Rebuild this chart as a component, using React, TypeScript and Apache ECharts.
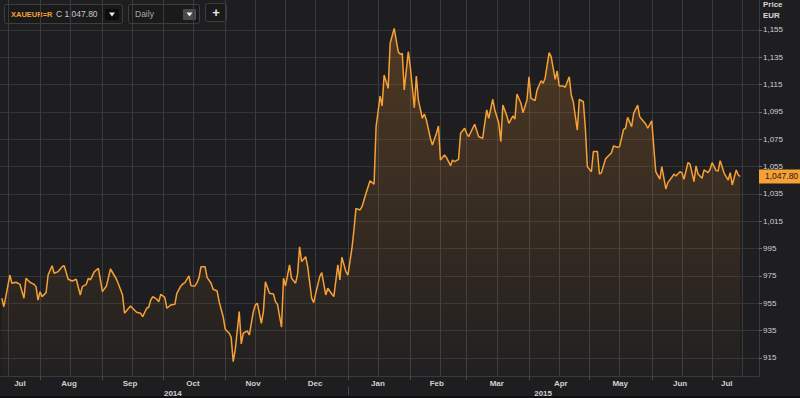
import React, { useEffect, useRef } from "react";
import * as echarts from "echarts";

// x values: days since 2014-07-01
const dayOffsets = [
  12, 13, 14, 16, 17, 19, 20, 21, 23, 24, 26, 28, 29, 30, 31, 32, 34, 35, 37, 38,
  40, 42, 43, 45, 47, 49, 51, 52, 54, 55, 56, 58, 60, 62, 64, 66, 69, 70, 72, 73,
  75, 76, 77, 79, 81, 82, 84, 85, 86, 87, 89, 90, 91, 93, 94, 96, 98, 99, 101, 102,
  103, 105, 106, 108, 109, 110, 111, 113, 114, 116, 117, 119, 120, 122, 123, 125, 126, 127, 128, 130,
  131, 132, 134, 135, 137, 138, 139, 141, 142, 143, 145, 147, 148, 149, 151, 152, 153, 155, 156, 158,
  159, 160, 161, 163, 164, 166, 167, 168, 170, 171, 173, 174, 176, 177, 179, 180, 181, 183, 184, 186,
  187, 188, 190, 191, 193, 195, 197, 198, 200, 201, 202, 204, 205, 207, 209, 210, 211, 212, 214, 215,
  217, 218, 219, 221, 222, 223, 225, 226, 228, 229, 230, 232, 233, 235, 236, 237, 239, 240, 242, 243,
  244, 246, 247, 249, 251, 252, 253, 254, 256, 257, 259, 260, 261, 263, 264, 266, 267, 268, 270, 271,
  273, 274, 275, 277, 278, 280, 281, 282, 284, 285, 287, 288, 289, 291, 292, 294, 295, 296, 298, 299,
  301, 302, 303, 305, 306, 308, 309, 310, 312, 313, 315, 316, 318, 319, 321, 322, 323, 325, 326, 328,
  329, 330, 332, 333, 335, 336, 337, 339, 340, 342, 343, 345, 346, 347, 349, 350, 351, 353, 354, 356,
  357, 358, 360, 361, 363, 364, 365, 367, 368, 369, 371, 373, 374, 375, 377, 378, 379,
];

const prices = [
  958.7, 952.5, 959.9, 975.7, 969.7, 970.4, 969.7, 968.9, 958.7, 973.3, 970.4, 968.9, 967.2, 957.4, 963.5, 959.9, 962.8, 975.7, 982.5, 977.0,
  978.2, 981.8, 982.5, 972.6, 971.3, 972.6, 961.1, 967.2, 968.9, 973.3, 972.1, 978.2, 980.6, 963.5, 967.7, 980.1, 972.6, 968.9, 961.1, 947.7,
  951.4, 953.0, 951.4, 948.4, 947.7, 945.2, 951.4, 952.1, 957.4, 959.9, 958.0, 956.2, 961.6, 959.4, 951.4, 953.8, 954.3, 962.3, 967.7, 969.2,
  970.1, 975.0, 967.9, 967.7, 970.1, 973.8, 981.8, 981.8, 974.0, 969.7, 965.3, 964.0, 956.2, 945.2, 936.2, 933.1, 930.1, 912.3, 920.9, 948.9,
  925.3, 933.1, 934.8, 931.8, 948.9, 953.8, 955.0, 940.4, 948.9, 970.8, 962.3, 961.8, 956.2, 954.3, 937.5, 973.3, 967.7, 983.1, 973.3, 969.7,
  976.5, 996.4, 985.5, 989.1, 981.8, 958.7, 955.5, 962.3, 974.5, 977.4, 961.1, 966.0, 961.8, 959.9, 983.1, 972.1, 988.7, 978.2, 975.7, 995.3,
  1008.7, 1024.5, 1023.3, 1025.7, 1035.5, 1044.7, 1042.1, 1084.2, 1106.7, 1099.4, 1122.1, 1112.3, 1145.3, 1156.2, 1139.1, 1137.2, 1137.9, 1111.1, 1139.1, 1128.1,
  1098.1, 1121.3, 1103.8, 1090.4, 1093.5, 1089.2, 1075.8, 1070.9, 1079.4, 1084.8, 1059.9, 1063.5, 1061.6, 1055.7, 1059.9, 1058.6, 1060.4, 1079.4, 1083.1, 1079.4,
  1076.9, 1083.1, 1086.0, 1076.9, 1075.8, 1086.7, 1096.5, 1090.4, 1104.3, 1096.5, 1086.7, 1073.3, 1100.1, 1092.1, 1086.7, 1092.1, 1089.7, 1108.2, 1101.4, 1094.5,
  1103.8, 1120.8, 1105.0, 1103.3, 1111.1, 1117.9, 1116.0, 1119.7, 1138.4, 1135.5, 1118.9, 1125.0, 1114.0, 1114.0, 1113.1, 1120.8, 1107.4, 1102.5, 1081.8, 1104.3,
  1102.5, 1083.1, 1055.0, 1051.3, 1066.0, 1066.0, 1049.6, 1050.6, 1060.6, 1062.3, 1065.2, 1070.1, 1069.2, 1069.6, 1082.3, 1083.1, 1091.1, 1084.2, 1094.0, 1100.1,
  1091.6, 1089.7, 1086.2, 1083.1, 1088.6, 1069.6, 1051.3, 1045.8, 1055.0, 1038.7, 1043.3, 1047.2, 1049.6, 1048.2, 1051.3, 1050.6, 1045.8, 1057.9, 1057.0, 1044.0,
  1055.5, 1049.6, 1046.5, 1052.6, 1050.6, 1053.1, 1057.9, 1052.1, 1051.8, 1059.4, 1050.1, 1045.2, 1050.6, 1041.6, 1052.6, 1048.9, 1047.8,
];

const monthStartDays = [31, 62, 92, 123, 153, 184, 215, 243, 274, 304, 335, 365];
const gridDays = [15, 31, 46, 62, 77, 92, 107, 123, 138, 153, 168, 184, 199, 215, 230, 243, 258, 274, 289, 304, 319, 335, 350, 365, 380];
const monthLabelDays = [21, 45.4, 75.7, 107, 136.9, 167.7, 198.9, 228.2, 258, 289.8, 319.3, 349.1, 372.3];
const monthNames = ["Jul", "Aug", "Sep", "Oct", "Nov", "Dec", "Jan", "Feb", "Mar", "Apr", "May", "Jun", "Jul"];
const yearLabelDays = [97, 281];
const yearNames = ["2014", "2015"];
const yearSplitDays = [184];
const priceTicks = [915, 935, 955, 975, 995, 1015, 1035, 1055, 1075, 1095, 1115, 1135, 1155];
const lastPrice = 1047.8;
const ric = "XAUEUR=R";
const interval = "Daily";
const unitLabels = ["Price", "EUR"];

const X_MIN = 11.1;
const X_MAX = 388.3;
const Y_MIN = 901.8;
const Y_MAX = 1176.95;

const ORANGE = "#f7a035";
const FONT = "'Liberation Sans', Arial, sans-serif";
const GRID_COLOR = "#343436";
const VGRID_COLOR = "#3b3b3d";

const nearest = (arr: number[], v: number) => {
  let best = 0;
  for (let i = 1; i < arr.length; i++) if (Math.abs(arr[i] - v) < Math.abs(arr[best] - v)) best = i;
  return best;
};

const fmtPrice = (v: number, digits = 0) =>
  v.toLocaleString("en-US", { minimumFractionDigits: digits, maximumFractionDigits: digits });

export default function App() {
  const ref = useRef<HTMLDivElement>(null);

  useEffect(() => {
    if (!ref.current) return;
    const chart = echarts.init(ref.current, null, { renderer: "svg" });

    const triangle = (cx: number, cy: number, fill: string) => ({
      type: "polygon",
      shape: { points: [[cx - 3, cy - 2], [cx + 3, cy - 2], [cx, cy + 2]] },
      style: { fill },
    });

    chart.setOption({
      animation: false,
      backgroundColor: "#1e1e20",
      textStyle: { fontFamily: FONT },
      grid: { left: 0, right: 41, top: 0, bottom: 22, containLabel: false, outerBoundsMode: "none" },
      xAxis: [
        {
          type: "value",
          min: X_MIN,
          max: X_MAX,
          position: "bottom",
          axisLine: { show: true, lineStyle: { color: "#3a3a3c", width: 1 } },
          axisTick: { show: true, length: 4, customValues: monthStartDays, lineStyle: { color: "#4a4a4c" } },
          axisLabel: {
            customValues: monthLabelDays,
            formatter: (v: number) => monthNames[nearest(monthLabelDays, v)],
            color: "#d0d0d0",
            fontSize: 8,
            fontWeight: "bold",
            fontFamily: FONT,
            margin: 3,
          },
          splitLine: { show: false },
        },
        {
          type: "value",
          min: X_MIN,
          max: X_MAX,
          position: "bottom",
          offset: 11,
          axisLine: { show: false },
          axisTick: { show: true, length: 8, customValues: yearSplitDays, lineStyle: { color: "#4a4a4c" } },
          axisLabel: {
            customValues: yearLabelDays,
            formatter: (v: number) => yearNames[nearest(yearLabelDays, v)],
            color: "#d0d0d0",
            fontSize: 8,
            fontWeight: "bold",
            fontFamily: FONT,
            margin: 2,
          },
          splitLine: { show: false },
        },
      ],
      yAxis: {
        type: "value",
        position: "right",
        min: Y_MIN,
        max: Y_MAX,
        axisLine: { show: true, lineStyle: { color: "#3a3a3c" } },
        axisTick: { show: true, length: 3, customValues: priceTicks, lineStyle: { color: "#6a6a6c" } },
        axisLabel: {
          customValues: priceTicks,
          formatter: (v: number) => fmtPrice(v),
          color: "#d0d0d0",
          fontSize: 8,
          fontFamily: FONT,
          margin: 4,
        },
        splitLine: { show: true, lineStyle: { color: GRID_COLOR, width: 1 } },
      },
      series: [
        {
          // vertical grid lines (1st and 16th of each month), drawn beneath the price area
          type: "line",
          name: "grid",
          z: 1,
          data: [],
          silent: true,
          markLine: {
            z: 1,
            silent: true,
            symbol: ["none", "none"],
            label: { show: false },
            lineStyle: { color: VGRID_COLOR, width: 1, type: "solid" },
            emphasis: { disabled: true },
            data: gridDays.map((d) => ({ xAxis: d })),
          },
        },
        {
          type: "line",
          z: 2,
          data: dayOffsets.map((d, i) => [d, prices[i]]),
          showSymbol: false,
          symbol: "none",
          clip: false,
          lineStyle: { color: ORANGE, width: 1.5 },
          itemStyle: { color: ORANGE },
          areaStyle: {
            color: new echarts.graphic.LinearGradient(0, 0, 0, 1, [
              { offset: 0, color: "rgba(247,150,45,0.32)" },
              { offset: 1, color: "rgba(247,150,45,0.02)" },
            ]),
          },
          markLine: {
            silent: true,
            symbol: ["none", "none"],
            lineStyle: { color: "transparent", width: 0 },
            label: {
              show: true,
              position: "end",
              distance: 0,
              formatter: () => fmtPrice(lastPrice, 2),
              backgroundColor: ORANGE,
              color: "#1a1a1a",
              fontSize: 8.5,
              fontFamily: FONT,
              padding: [3, 5, 2, 6],
            },
            data: [{ yAxis: lastPrice }],
          },
        },
      ],
      graphic: [
        { type: "rect", left: 0, top: 396, shape: { width: 800, height: 2 }, style: { fill: "#111" } },
        { type: "rect", shape: { x: 4.5, y: 4.5, width: 118, height: 19, r: 2 }, style: { fill: "#1a1a1b", stroke: "#3e3e40", lineWidth: 1 } },
        { type: "text", x: 11, y: 14, style: { text: ric, fill: ORANGE, font: `bold 7.5px ${FONT}`, verticalAlign: "middle" } },
        { type: "text", x: 56, y: 14, style: { text: "C " + fmtPrice(lastPrice, 2), fill: "#c8c8c8", font: `8.5px ${FONT}`, verticalAlign: "middle" } },
        { type: "rect", shape: { x: 105, y: 9, width: 14, height: 11, r: 1 }, style: { fill: "#0c0c0c" } },
        triangle(112, 14.5, "#e8e8e8"),
        { type: "rect", shape: { x: 128.5, y: 4.5, width: 71, height: 19, r: 2 }, style: { fill: "#1a1a1b", stroke: "#3e3e40", lineWidth: 1 } },
        { type: "text", x: 135, y: 14, style: { text: interval, fill: "#a8a8a8", font: `8.5px ${FONT}`, verticalAlign: "middle" } },
        { type: "rect", shape: { x: 183, y: 9, width: 13, height: 11, r: 1 }, style: { fill: "#4a4a4c" } },
        triangle(189.5, 14.5, "#f0f0f0"),
        { type: "rect", shape: { x: 205.5, y: 3.5, width: 21, height: 18, r: 2 }, style: { fill: "#1a1a1b", stroke: "#3e3e40", lineWidth: 1 } },
        { type: "text", x: 216, y: 12.5, style: { text: "+", fill: "#e8e8e8", font: `bold 13px ${FONT}`, align: "center", verticalAlign: "middle" } },
        { type: "text", x: 763, y: 4, style: { text: unitLabels[0], fill: "#d8d8d8", font: `bold 8px ${FONT}`, verticalAlign: "middle" } },
        { type: "text", x: 763, y: 15, style: { text: unitLabels[1], fill: "#d8d8d8", font: `bold 8px ${FONT}`, verticalAlign: "middle" } },
      ],
    });

    return () => chart.dispose();
  }, []);

  return (
    <div
      ref={ref}
      style={{ position: "fixed", left: 0, top: 0, width: 800, height: 398, background: "#1e1e20" }}
    />
  );
}
